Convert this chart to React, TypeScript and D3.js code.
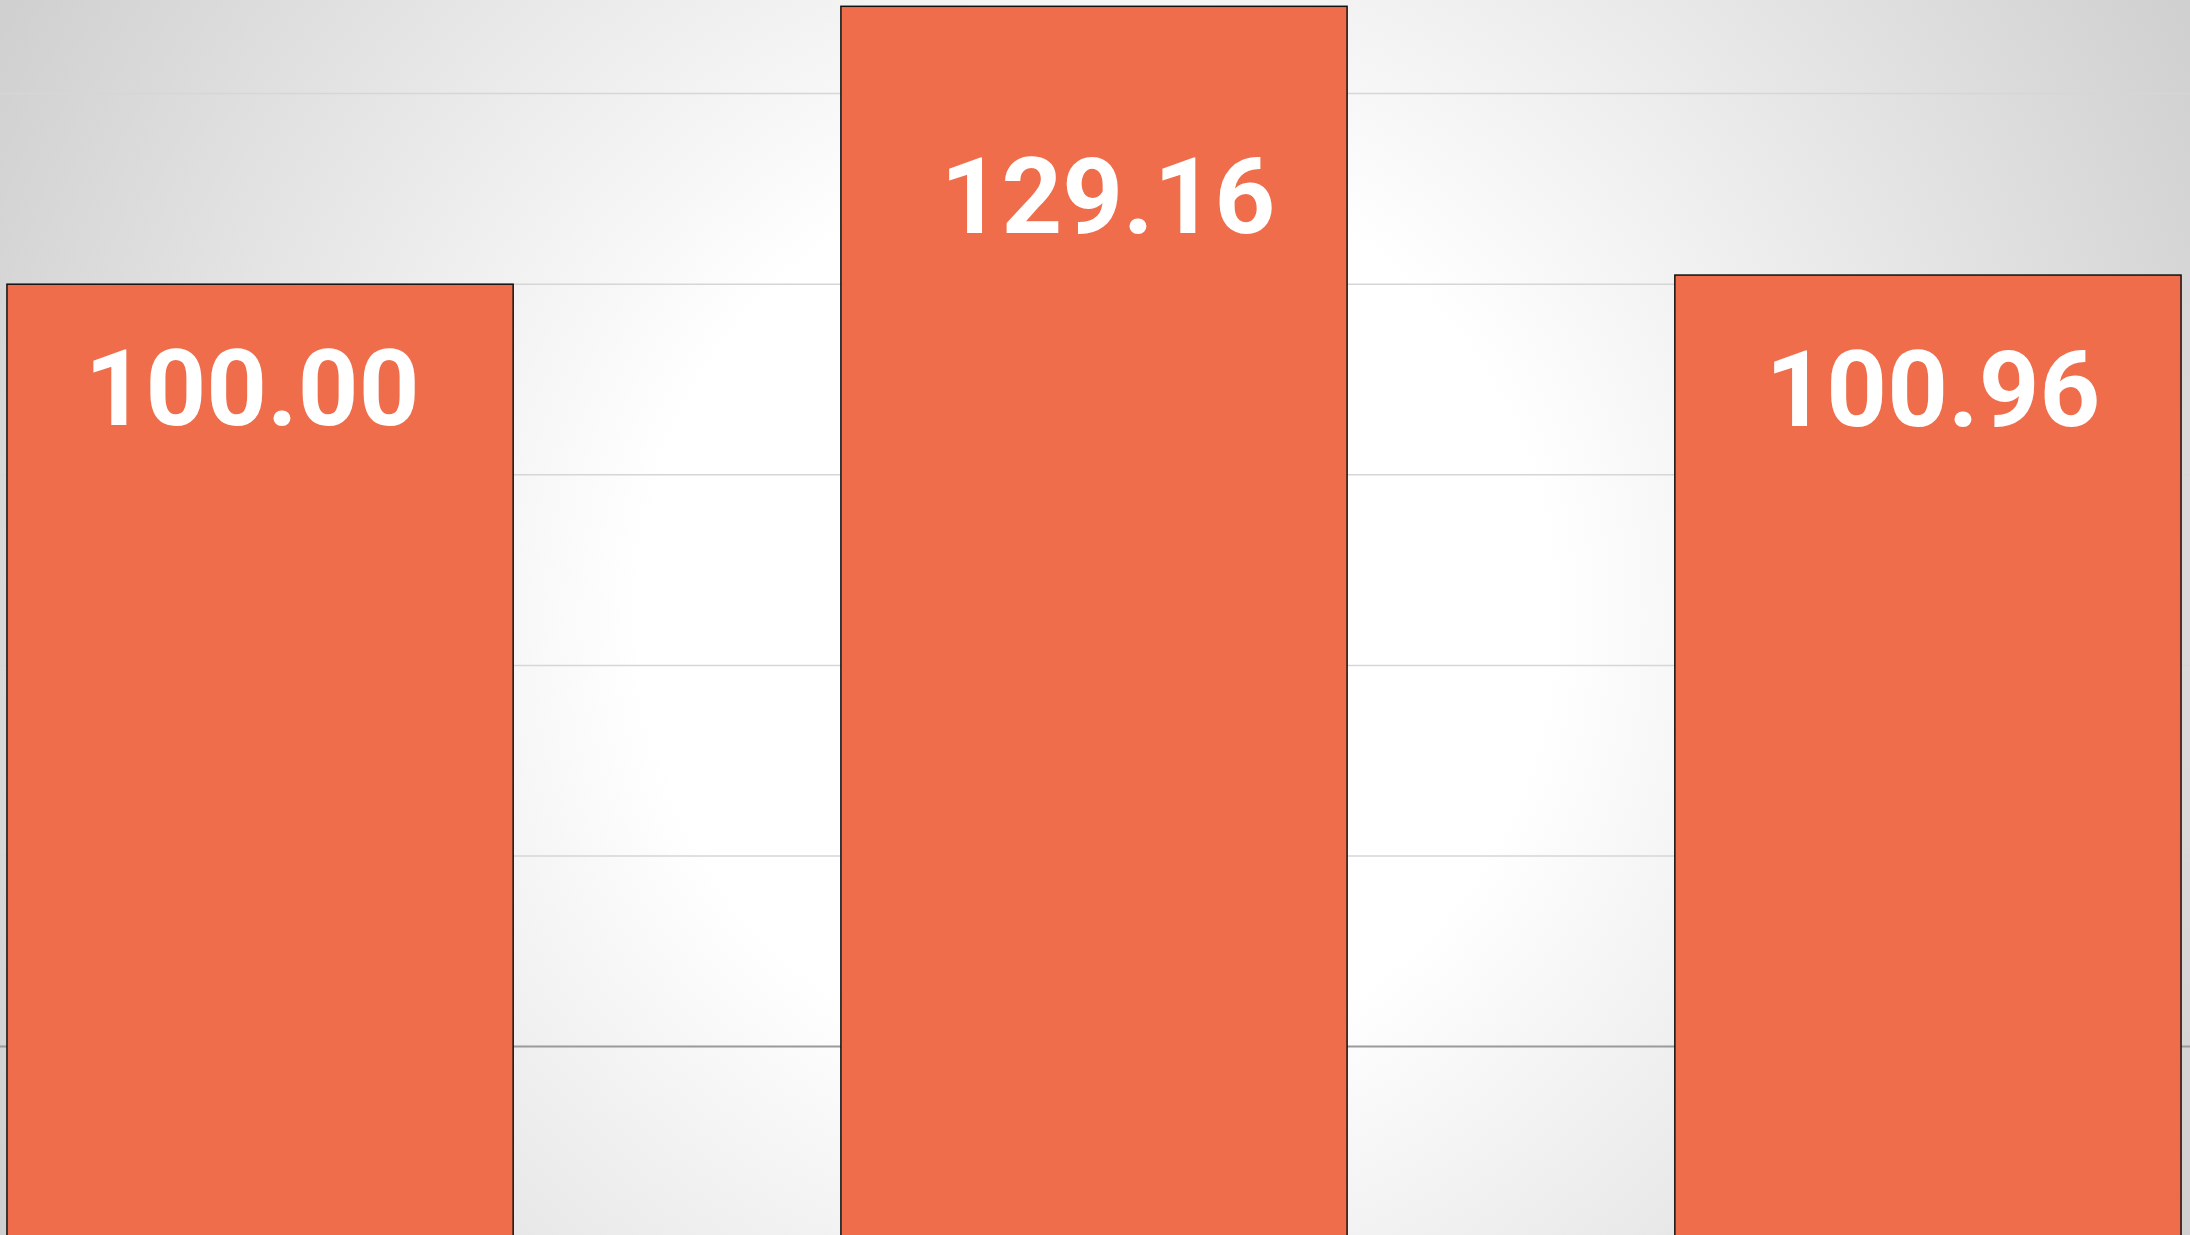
import React from "react";
import * as d3 from "d3";

const categories = ["A", "B", "C"];
const values = [100.0, 129.16, 100.96];
const labels = ["100.00", "129.16", "100.96"];
const gridTicks = [20, 40, 60, 80, 100, 120];

const W = 2190;
const H = 1235;
const labelDy = [141, 227, 151];
const labelDx = [-8, 14, 5];

export default function App() {
  const x = d3
    .scaleBand<string>()
    .domain(categories)
    .range([-157, 2345])
    .paddingInner(0.393)
    .paddingOuter(0.1966);
  const y = d3.scaleLinear().domain([0, 140]).range([1237.2, 1237.2 - 140 * 9.53]);

  return (
    <svg
      width={W}
      height={H}
      style={{ position: "fixed", left: 0, top: 0, display: "block" }}
    >
      <defs>
        <radialGradient id="bg" gradientUnits="userSpaceOnUse" cx={1095} cy={617} r={1257}>
          <stop offset="0" stopColor="#ffffff" />
          <stop offset="0.36" stopColor="#ffffff" />
          <stop offset="1" stopColor="#cfcfcf" />
        </radialGradient>
      </defs>
      <rect x={0} y={0} width={W} height={H} fill="url(#bg)" />
      {gridTicks.map((t) => (
        <line
          key={t}
          x1={0}
          x2={W}
          y1={y(t)}
          y2={y(t)}
          stroke={t === 20 ? "#9a9a9a" : "#d6d6d6"}
          strokeWidth={t === 20 ? 2 : 1.5}
        />
      ))}
      {categories.map((c, i) => (
        <rect
          key={c}
          x={x(c)}
          y={y(values[i])}
          width={x.bandwidth()}
          height={y(0) - y(values[i])}
          fill="#EF6D4B"
          stroke="#111"
          strokeWidth={1.5}
        />
      ))}
      {categories.map((c, i) => (
        <text
          key={c + "l"}
          x={(x(c) as number) + x.bandwidth() / 2 + labelDx[i]}
          y={y(values[i]) + labelDy[i]}
          textAnchor="middle"
          fill="#ffffff"
          fontFamily="Roboto, sans-serif"
          fontWeight={700}
          fontSize={106}
        >
          {labels[i]}
        </text>
      ))}
    </svg>
  );
}
